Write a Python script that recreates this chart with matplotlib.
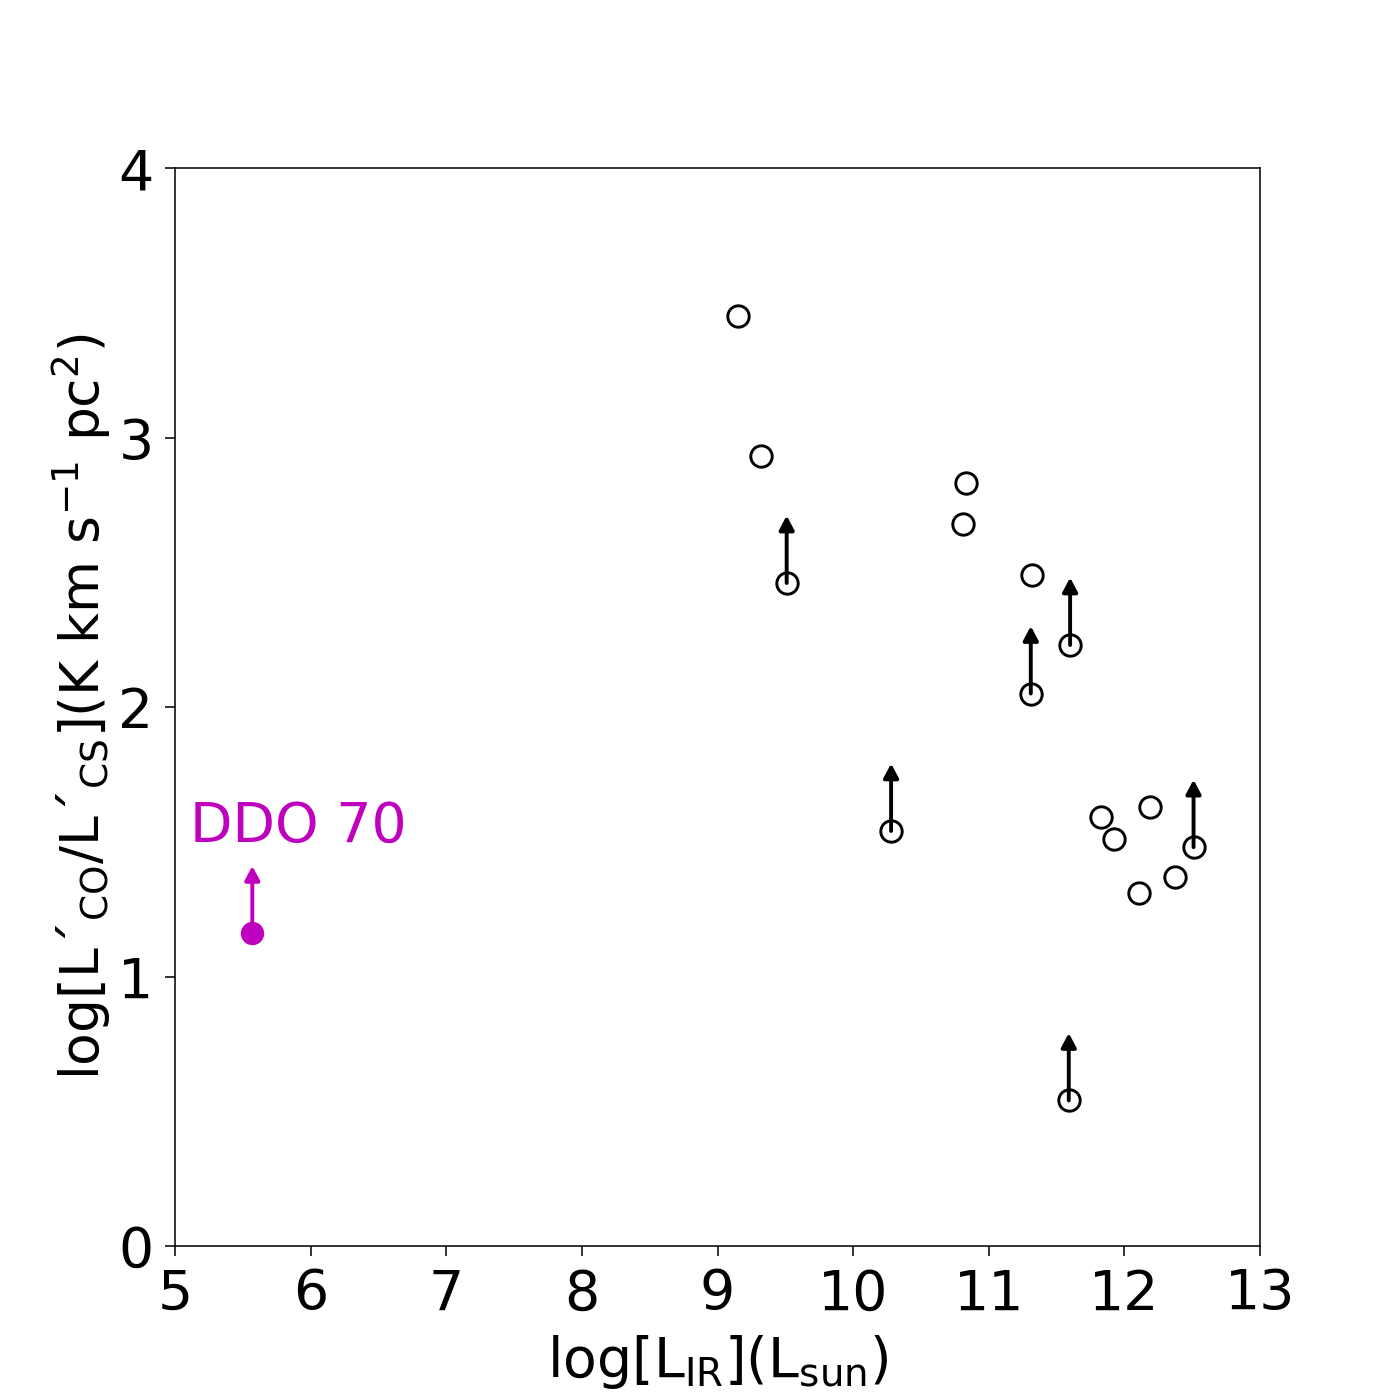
import matplotlib
matplotlib.use("Agg")
import matplotlib.pyplot as plt

# galaxies: log L_IR, log L'CO/L'CS, lower limit flag
lir = [9.15, 9.32, 9.51, 10.83, 10.81, 11.32, 11.60, 11.31, 10.28,
       11.83, 11.92, 12.19, 12.11, 12.37, 12.51, 11.59]
ratio = [3.45, 2.93, 2.46, 2.83, 2.68, 2.49, 2.23, 2.05, 1.54,
         1.59, 1.51, 1.63, 1.31, 1.37, 1.48, 0.54]
lower = [False, False, True, False, False, False, True, True, True,
         False, False, False, False, False, True, True]

ddo_lir, ddo_ratio = 5.57, 1.16

fig, ax = plt.subplots(figsize=(10, 10), dpi=140)

def up_arrow(x, y, color):
    ax.annotate("", xy=(x, y + 0.25), xytext=(x, y),
                arrowprops=dict(arrowstyle="-|>,head_width=0.32,head_length=0.6",
                                lw=2, color=color, shrinkA=0, shrinkB=0))

for x, y, lim in zip(lir, ratio, lower):
    if lim:
        up_arrow(x, y, "k")
ax.plot(lir, ratio, "o", mfc="none", mec="k", ms=11, mew=1.5)

up_arrow(ddo_lir, ddo_ratio, "m")
ax.plot(ddo_lir, ddo_ratio, "o", color="m", ms=11)
ax.text(5.11, 1.50, "DDO 70", color="m", fontsize=28.5)

ax.set_xlim(5, 13)
ax.set_ylim(0, 4)
ax.set_xticks(range(5, 14))
ax.set_yticks(range(0, 5))
ax.tick_params(labelsize=28.5, length=5, pad=6)
ax.set_xlabel(r"log[L$_{\rm IR}$](L$_{\rm sun}$)", fontsize=28.5, labelpad=6)
ax.set_ylabel("log[L´$_{\\rm CO}$/L´$_{\\rm CS}$](K km s$^{-1}$ pc$^2$)",
              fontsize=27.5, labelpad=3)

fig.savefig("out.png")
